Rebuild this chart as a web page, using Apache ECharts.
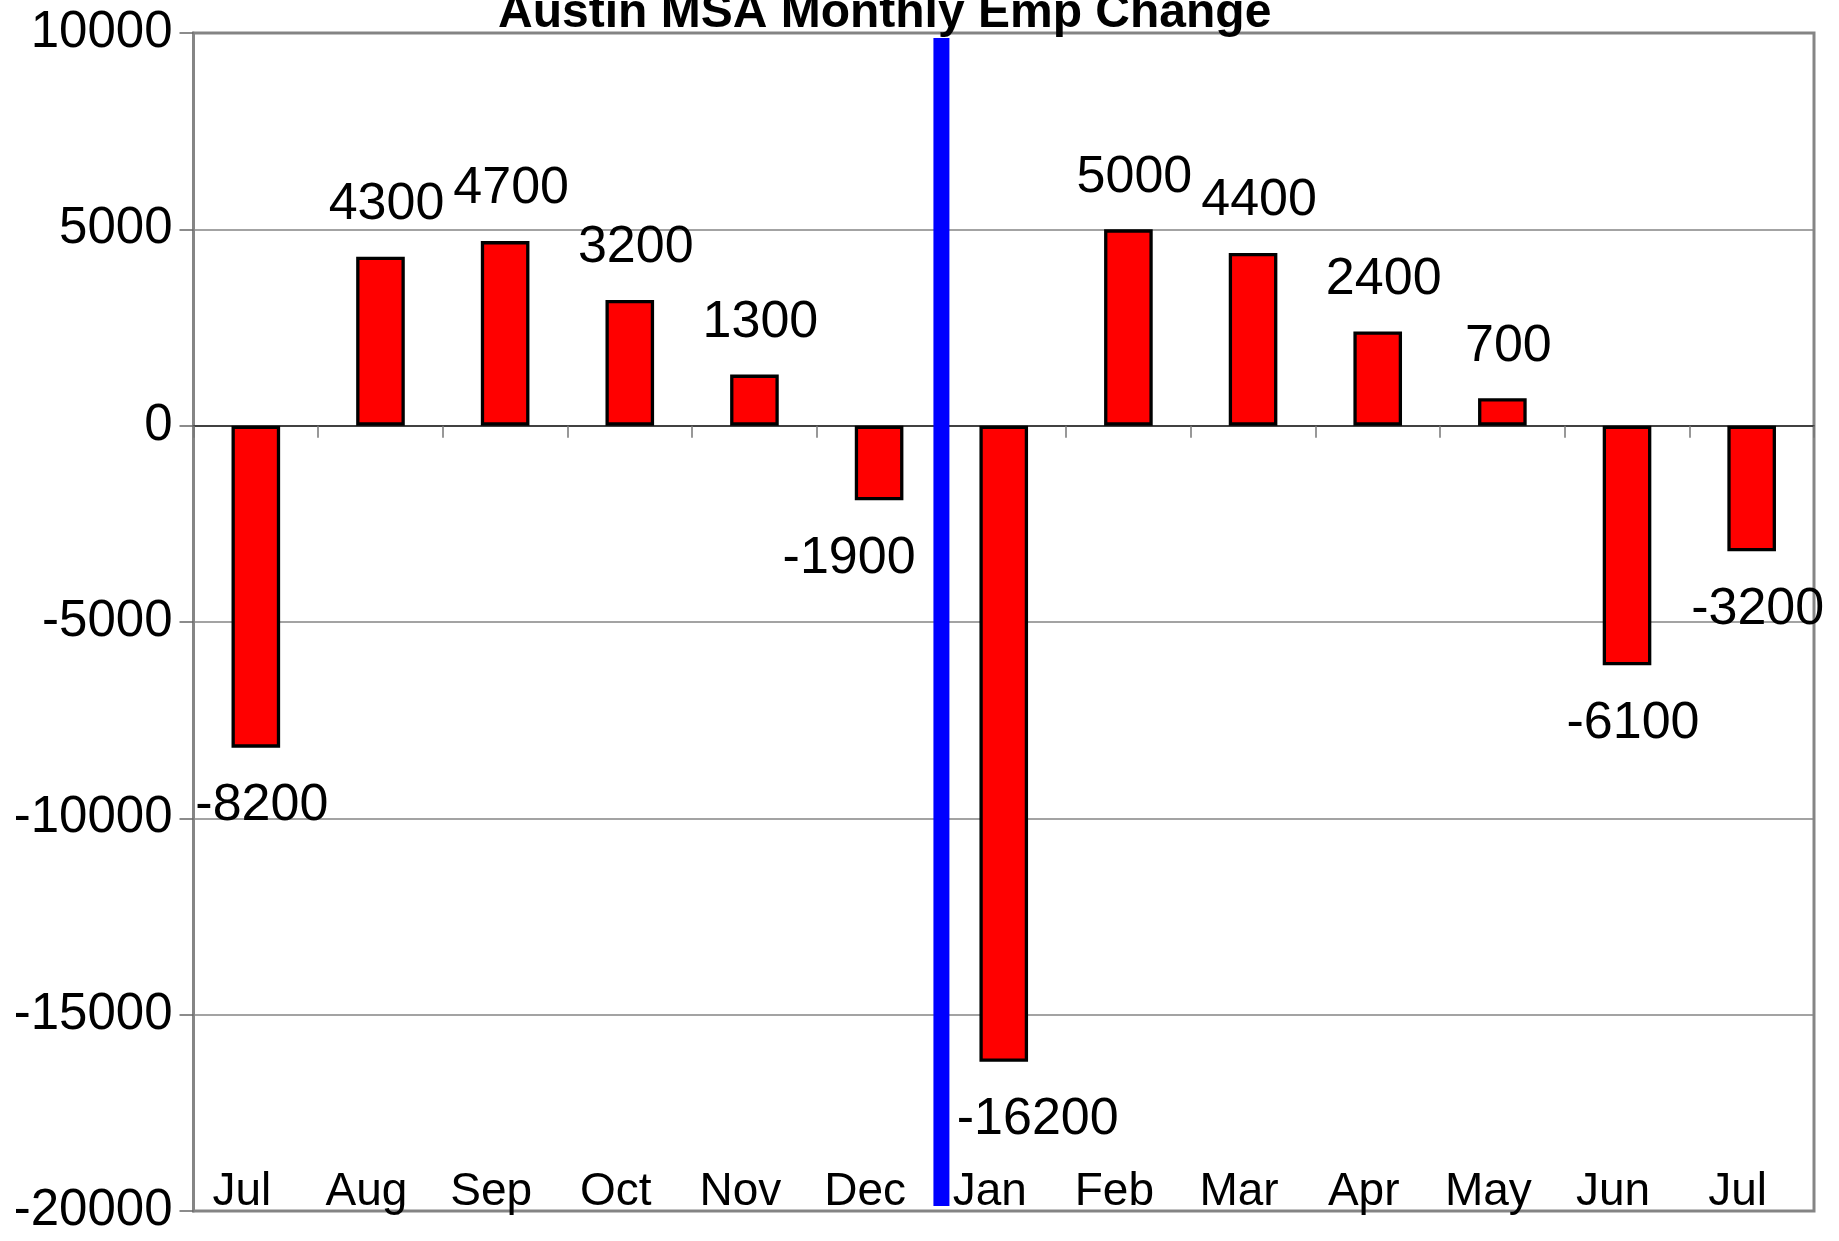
<!DOCTYPE html>
<html>
<head>
<meta charset="utf-8">
<script src="https://cdn.jsdelivr.net/npm/echarts@6/dist/echarts.min.js"></script>
<style>
  html, body { margin: 0; padding: 0; background: #fff; }
  #empChart { width: 1839px; height: 1241px; }
</style>
</head>
<body>
<div id="empChart"></div>
<script>
const months = ['Jul', 'Aug', 'Sep', 'Oct', 'Nov', 'Dec', 'Jan', 'Feb', 'Mar', 'Apr', 'May', 'Jun', 'Jul'];
const empChange = [-8200, 4300, 4700, 3200, 1300, -1900, -16200, 5000, 4400, 2400, 700, -6100, -3200];
const yTicks = { min: -20000, max: 10000, step: 5000 };
// year divider sits on the boundary before the 7th category (Jan)
const dividerAt = 6;
const dividerSpan = [9870, -19870];

const FONT = '"Liberation Sans", Arial, sans-serif';

function getBarData() {
    // a couple of labels were nudged sideways in the original to clear the divider
    const shift = { 5: -30, 6: 34 };
    return empChange.map((v, i) => ({
        value: v,
        label: {
            position: v < 0 ? 'bottom' : 'top',
            offset: [shift[i] !== undefined ? shift[i] : 6, 3],
        },
    }));
}

function getOption() {
    const option = {
        animation: false,
        title: {
            text: 'Austin MSA Monthly Emp Change',
            left: 498,
            top: -10,
            padding: 0,
            textStyle: {
                fontFamily: FONT,
                fontSize: 48,
                fontWeight: 'bold',
                color: '#000',
            },
        },
        grid: {
            left: 193.5,
            right: 25,
            top: 33,
            bottom: 30,
            show: true,
            borderColor: '#858585',
            borderWidth: 3,
        },
        xAxis: [
            {
                // the zero line with its boundary ticks
                type: 'category',
                data: months,
                position: 'bottom',
                axisLine: { onZero: true, lineStyle: { color: '#222', width: 1.5 } },
                axisTick: { show: true, length: 12, lineStyle: { color: '#777', width: 1.5 } },
                axisLabel: { show: false },
                splitLine: { show: false },
            },
            {
                // month names along the bottom, inside the frame
                type: 'category',
                data: months,
                position: 'bottom',
                axisLine: { show: false, onZero: false },
                axisTick: { show: false },
                axisLabel: {
                    inside: true,
                    margin: -4,
                    fontFamily: FONT,
                    fontSize: 46,
                    color: '#000',
                    padding: [0, 28, 0, 0],
                },
                splitLine: { show: false },
            },
            {
                type: 'value',
                min: 0,
                max: months.length,
                show: false,
            },
        ],
        yAxis: {
            type: 'value',
            min: yTicks.min,
            max: yTicks.max,
            interval: yTicks.step,
            axisLine: { show: true, lineStyle: { color: '#858585', width: 3 } },
            axisTick: { show: true, length: 14, lineStyle: { color: '#666', width: 1.5 } },
            axisLabel: {
                margin: 21,
                fontFamily: FONT,
                fontSize: 51,
                color: '#000',
                formatter: (v) => String(v),
            },
            splitLine: { show: true, lineStyle: { color: '#858585', width: 1.5 } },
        },
        series: [
            {
                type: 'bar',
                xAxisIndex: 0,
                data: getBarData(),
                barWidth: '39%',
                itemStyle: {
                    color: '#FF0000',
                    borderColor: '#000',
                    borderWidth: 3.3,
                },
                label: {
                    show: true,
                    distance: 29,
                    fontFamily: FONT,
                    fontSize: 52,
                    color: '#000',
                },
                z: 3,
            },
            {
                type: 'line',
                xAxisIndex: 2,
                data: dividerSpan.map((y) => [dividerAt, y]),
                symbol: 'none',
                lineStyle: { color: '#0000FF', width: 16, cap: 'butt' },
                z: 4,
            },
        ],
    };
    return option;
}

document.addEventListener('DOMContentLoaded', () => {
    const empChart = echarts.init(document.getElementById('empChart'));
    empChart.setOption(getOption());
    window.addEventListener('resize', () => empChart.resize());
});
</script>
</body>
</html>
